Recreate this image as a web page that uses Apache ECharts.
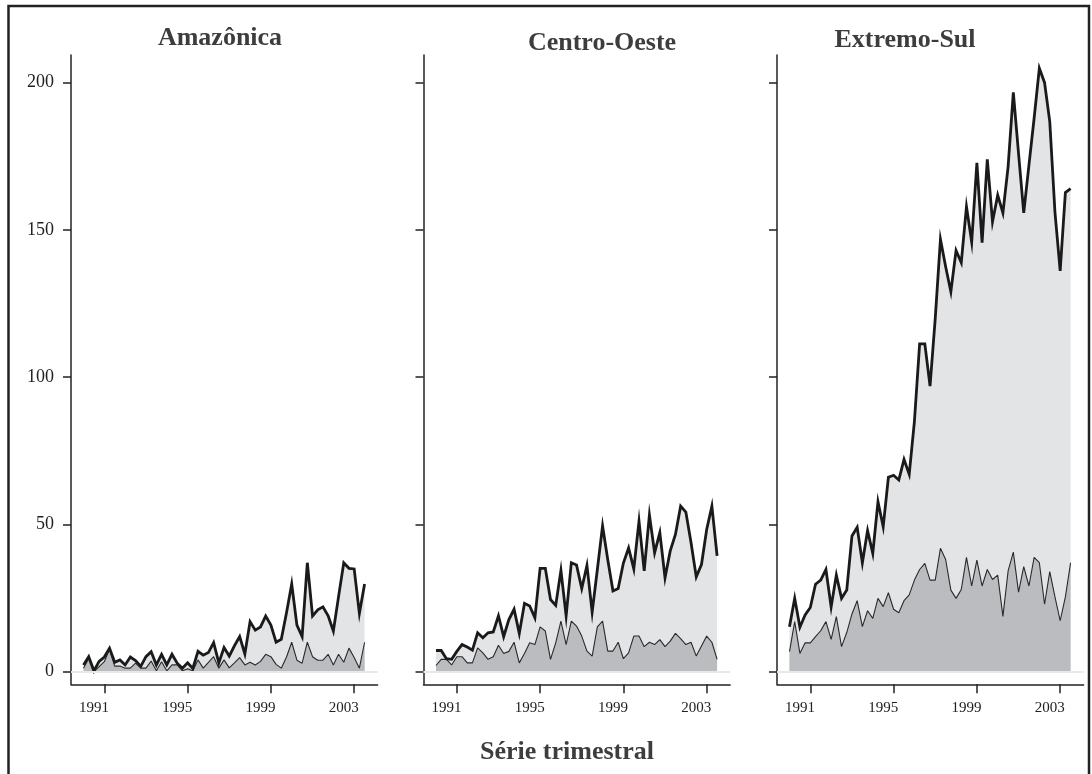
<!DOCTYPE html>
<html>
<head>
<meta charset="utf-8">
<script src="https://cdn.jsdelivr.net/npm/echarts@6/dist/echarts.min.js"></script>
<style>
html,body{margin:0;padding:0;background:#fff;}
#chart{width:1092px;height:774px;}
</style>
</head>
<body>
<div id="chart"></div>
<script>
// Quarterly categories 1990 T1 .. 2003 T3
const years = [1990,1991,1992,1993,1994,1995,1996,1997,1998,1999,2000,2001,2002,2003];
const categories = [];
years.forEach(y => [1,2,3,4].forEach(q => categories.push(y + ' T' + q)));
categories.length = 55;

const panelTitles = ['Amazônica', 'Centro-Oeste', 'Extremo-Sul'];
const xTickLabels = ['1991', '1995', '1999', '2003'];
const yTicks = [0, 50, 100, 150, 200];

// upper (thick line, light fill) and lower (thin line, darker fill) series
const amazonicaTotal = [2.3,5.1,0.3,3.5,5.0,8.0,3.2,4.0,2.3,5.0,3.8,1.8,5.1,6.8,2.3,5.9,2.3,5.9,2.9,1.2,3.0,1.1,6.9,5.6,6.5,9.9,3.0,8.2,5.3,8.8,11.9,6.0,17.0,14.1,15.2,18.9,15.8,10.0,11.0,20.0,29.8,15.8,11.9,37.0,18.9,21.0,22.0,19.0,13.8,25.5,37.0,35.1,34.9,19.8,29.8];
const amazonicaPart  = [1.2,4.5,0.0,1.7,3.4,7.6,1.9,1.9,1.2,1.2,2.9,1.2,1.2,3.6,0.3,3.4,0.3,2.3,2.3,0.3,1.0,0.3,4.0,1.2,3.2,5.1,1.2,4.0,1.3,3.0,4.8,2.3,3.2,2.3,3.5,5.9,5.1,2.5,1.2,5.0,10.0,3.9,2.9,10.0,5.1,3.9,3.9,5.9,2.3,5.9,3.2,8.0,4.8,1.2,10.0];
const centroTotal = [7.2,7.2,4.4,4.2,6.9,9.2,8.4,7.3,13.2,11.5,13.2,13.5,19.0,11.9,17.7,21.2,13.0,23.2,22.3,18.3,35.1,35.1,24.5,22.5,34.4,18.9,37.0,36.2,28.2,36.1,20.2,34.7,49.5,38.0,27.4,28.2,36.9,42.0,34.9,51.1,34.2,53.2,40.4,47.2,31.9,41.0,46.6,56.2,54.2,43.8,32.2,36.4,48.3,56.2,39.3];
const centroPart  = [2.1,4.2,4.2,2.3,5.1,5.1,3.0,3.0,8.1,6.4,4.2,5.1,9.0,6.2,6.9,10.0,3.0,6.2,9.8,9.2,15.2,13.8,4.2,9.8,17.2,9.2,17.2,15.5,12.1,7.0,5.3,15.2,17.2,7.0,7.0,10.0,4.4,6.4,12.1,12.1,8.5,10.0,9.2,10.9,8.5,10.4,13.0,11.2,9.2,10.0,5.3,8.7,12.1,10.0,4.2];
const sulTotal = [15.3,24.9,15.1,19.3,21.8,29.7,31.1,34.7,22.0,32.8,24.9,27.7,46.1,49.0,37.0,47.9,40.2,57.7,49.2,66.0,66.7,65.1,72.1,67.0,85.0,111.3,111.3,97.0,120.0,146.8,137.5,129.0,143.0,138.9,157.9,145.9,172.8,145.7,174.0,152.8,161.8,155.8,171.5,196.7,176.0,155.8,172.0,188.0,204.9,200.0,186.8,156.0,136.1,162.7,164.0];
const sulPart  = [6.8,17.0,6.2,9.8,9.8,11.9,13.9,17.0,11.0,18.7,8.5,13.3,19.6,24.1,15.3,20.7,18.1,24.9,22.1,26.8,21.2,20.0,24.1,26.1,31.1,34.7,36.8,31.1,31.1,41.9,38.1,27.7,24.9,27.9,38.8,29.1,37.9,29.1,34.7,31.3,32.8,18.8,34.2,40.6,27.0,35.7,29.1,38.8,37.0,22.9,34.0,25.4,17.3,25.4,37.0];

const totals = [amazonicaTotal, centroTotal, sulTotal];
const parts = [amazonicaPart, centroPart, sulPart];

const FONT = '"Liberation Serif", "DejaVu Serif", serif';
const tickPos = xTickLabels.map(y => categories.indexOf(y + ' T1'));
const labelPos = tickPos.map(p => p - 2);

const gridLefts = [71, 423.5, 777];
const gridW = 306.6;

const grids = [], xAxes = [], yAxes = [], series = [];
for (let k = 0; k < 3; k++) {
  grids.push({left: gridLefts[k], top: 55, width: gridW, height: 629.3, containLabel: false});
  xAxes.push({
    type: 'value', gridIndex: k, min: -2.4, max: 56.5,
    splitLine: {show: false},
    axisLine: {show: true, onZero: false, lineStyle: {color: '#222', width: 1.5}},
    axisTick: {show: true, length: 9, customValues: tickPos, lineStyle: {color: '#222', width: 1.5}},
    axisLabel: {
      show: true, customValues: labelPos, margin: 16,
      fontFamily: FONT, fontSize: 15, color: '#222',
      formatter: v => xTickLabels[labelPos.indexOf(v)] || ''
    }
  });
  yAxes.push({
    type: 'value', gridIndex: k, min: -4.28, max: 209.4,
    splitLine: {show: false},
    axisLine: {show: true, onZero: false, lineStyle: {color: '#222', width: 1.5}},
    axisTick: {show: true, length: 8, customValues: yTicks, lineStyle: {color: '#222', width: 1.5}},
    axisLabel: {
      show: k === 0, customValues: yTicks, margin: 17,
      fontFamily: FONT, fontSize: 18, color: '#222'
    }
  });
  const tot = totals[k].map((v, i) => [i, v]);
  const prt = parts[k].map((v, i) => [i, v]);
  series.push({
    type: 'line', xAxisIndex: k, yAxisIndex: k, data: tot,
    showSymbol: false, silent: true, z: 1,
    lineStyle: {width: 0, opacity: 0},
    areaStyle: {color: '#e3e4e6', opacity: 1},
    markLine: {
      silent: true, symbol: 'none', label: {show: false},
      lineStyle: {color: '#e8e8e8', width: 2, type: 'solid'},
      data: [{yAxis: 0}]
    }
  });
  series.push({
    type: 'line', xAxisIndex: k, yAxisIndex: k, data: prt,
    showSymbol: false, silent: true, z: 2,
    lineStyle: {width: 1.1, color: '#2a2a2a'},
    areaStyle: {color: '#bbbcbf', opacity: 1}
  });
  series.push({
    type: 'line', xAxisIndex: k, yAxisIndex: k, data: tot,
    showSymbol: false, silent: true, z: 3,
    lineStyle: {width: 2.8, color: '#1a1a1a', join: 'miter'}
  });
}

const titleStyle = {fontFamily: FONT, fontSize: 26, fontWeight: 'bold', fill: '#3d3d3d', align: 'center', verticalAlign: 'middle'};
const titlePos = [[220, 38], [602, 43], [905, 40]];

const chart = echarts.init(document.getElementById('chart'), null, {renderer: 'canvas'});
chart.setOption({
  animation: false,
  backgroundColor: '#fff',
  grid: grids,
  xAxis: xAxes,
  yAxis: yAxes,
  series: series,
  graphic: [
    {type: 'rect', shape: {x: 8.5, y: 6, width: 1080.5, height: 820}, style: {fill: 'none', stroke: '#222', lineWidth: 2.5}, silent: true, z: 100},
    ...panelTitles.map((t, k) => ({type: 'text', x: titlePos[k][0], y: titlePos[k][1], style: Object.assign({text: t}, titleStyle), silent: true})),
    {type: 'text', x: 567, y: 752, style: Object.assign({text: 'Série trimestral'}, titleStyle), silent: true}
  ]
});
</script>
</body>
</html>
